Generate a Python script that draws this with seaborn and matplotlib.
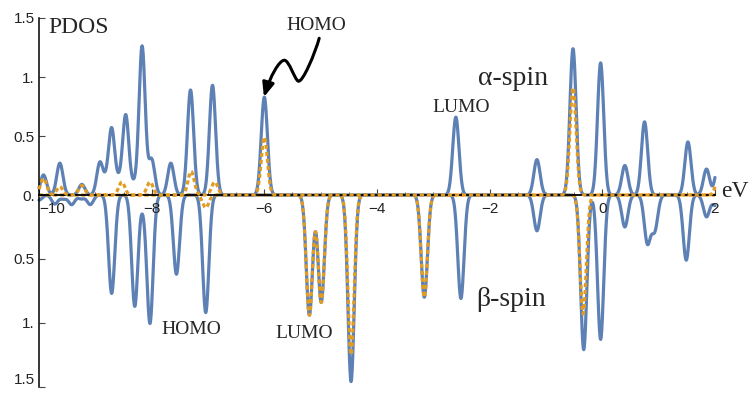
import numpy as np
import pandas as pd
import seaborn as sns
import matplotlib.pyplot as plt
from matplotlib.path import Path
from matplotlib.patches import FancyArrowPatch

# ---------------- data (peak positions in eV and heights) -------------
alpha_total_E = [-9.92, -9.63, -9.24, -8.92, -8.81, -8.71, -8.58, -8.46, -8.32, -8.17, -8.00,
                 -7.66, -7.31, -6.92, -6.00, -2.60, -1.16, -0.52, -0.03, 0.40, 0.75, 1.52, 1.85, 2.06]
alpha_total_H = [0.17, 0.27, 0.09, 0.27, 0.08, 0.55, 0.10, 0.67, 0.08, 1.26, 0.30,
                 0.27, 0.89, 0.93, 0.83, 0.66, 0.30, 1.24, 1.12, 0.25, 0.62, 0.45, 0.22, 0.26]

alpha_sub_E = [-9.92, -9.63, -9.24, -8.53, -8.03, -7.30, -6.88, -6.00, -0.52, 2.07]
alpha_sub_H = [0.14, 0.07, 0.08, 0.11, 0.11, 0.20, 0.11, 0.49, 0.91, 0.16]

beta_total_E = [-10.0, -9.72, -9.57, -9.42, -9.25, -9.09, -8.71, -8.30, -8.15, -8.03, -7.56, -7.04,
                -5.20, -4.99, -4.46, -3.16, -2.51, -1.16, -0.33, -0.03, 0.40, 0.80, 0.93, 1.49, 1.85, 2.01]
beta_total_H = [0.04, 0.07, 0.03, 0.075, 0.03, 0.075, 0.77, 0.87, 0.06, 1.00, 0.62, 0.92,
                0.94, 0.84, 1.46, 0.80, 0.81, 0.28, 1.21, 1.13, 0.25, 0.37, 0.27, 0.51, 0.17, 0.08]

beta_sub_E = [-7.04, -5.20, -4.99, -4.46, -3.16, -0.34]
beta_sub_H = [0.10, 0.94, 0.84, 1.25, 0.80, 0.93]

x_ticks = [-10, -8, -6, -4, -2, 0, 2]
x_tick_labels = ['\u221210', '\u22128', '\u22126', '\u22124', '\u22122', '0', '2']
y_up_ticks = [0, 0.5, 1.0, 1.5]
y_up_labels = ['0.', '0.5', '1.', '1.5']
y_dn_ticks = [-1.5, -1.0, -0.5]
y_dn_labels = ['1.5', '1.', '0.5']

SIGMA = 0.055  # gaussian broadening (eV)

# ---------------- build curves ----------------
E = np.linspace(-10, 2, 2401)


def broaden(centers, heights):
    c = np.asarray(centers)[:, None]
    h = np.asarray(heights)[:, None]
    return (h * np.exp(-(E[None, :] - c) ** 2 / (2 * SIGMA ** 2))).sum(axis=0)


df = pd.DataFrame({
    'E': E,
    'alpha_total': broaden(alpha_total_E, alpha_total_H),
    'alpha_sub': broaden(alpha_sub_E, alpha_sub_H),
    'beta_total': -broaden(beta_total_E, beta_total_H),
    'beta_sub': -broaden(beta_sub_E, beta_sub_H),
})

BLUE = '#5E81B5'
ORANGE = '#E19C24'

sns.set_style('white')
plt.rcParams['font.family'] = ['Liberation Sans', 'DejaVu Sans']
plt.rcParams['axes.unicode_minus'] = True

fig = plt.figure(figsize=(7.53, 3.93), dpi=100)
fig.patch.set_facecolor('white')
ax1 = fig.add_axes([0.0518, 0.5038, 0.8977, 0.4504])
ax2 = fig.add_axes([0.0518, 0.0160, 0.8977, 0.4878])
ax1.set_zorder(2)
ax2.set_zorder(1)
for ax in (ax1, ax2):
    ax.patch.set_alpha(0)

LW = 2.3
sns.lineplot(data=df, x='E', y='alpha_total', ax=ax1, color=BLUE, lw=LW,
             estimator=None, sort=False, zorder=2, clip_on=False)
sns.lineplot(data=df, x='E', y='alpha_sub', ax=ax1, color=ORANGE, lw=LW,
             estimator=None, sort=False, zorder=3, clip_on=False)
ax1.lines[-1].set_dashes([1.3, 0.9])
sns.lineplot(data=df, x='E', y='beta_total', ax=ax2, color=BLUE, lw=LW,
             estimator=None, sort=False, zorder=2, clip_on=False)
sns.lineplot(data=df, x='E', y='beta_sub', ax=ax2, color=ORANGE, lw=LW,
             estimator=None, sort=False, zorder=3, clip_on=False)
ax2.lines[-1].set_dashes([1.3, 0.9])

for ax in (ax1, ax2):
    ax.set_xlim(-10, 2)
    ax.set_xlabel('')
    ax.set_ylabel('')
    for s in ax.spines.values():
        s.set_visible(False)
    ax.spines['left'].set_visible(True)
    ax.spines['left'].set_color('black')
    ax.spines['left'].set_linewidth(1.1)

ax1.set_ylim(0, 1.5)
ax2.set_ylim(-1.5, 0)
ax1.spines['bottom'].set_visible(True)
ax1.spines['bottom'].set_color('black')
ax1.spines['bottom'].set_linewidth(1.3)

TICK_FS = 11
ax1.set_xticks(x_ticks, labels=x_tick_labels)
ax1.set_xticks(np.arange(-10, 2.01, 0.5), minor=True)
ax1.tick_params(axis='x', which='major', direction='in', length=4, width=0.8,
                pad=5, labelsize=TICK_FS, color='#444', labelcolor='#222', bottom=True)
ax1.tick_params(axis='x', which='minor', direction='in', length=2.5, width=0.6,
                color='#444', bottom=True)
ax1.get_xticklabels()[0].set_horizontalalignment('left')
ax1.set_yticks(y_up_ticks, labels=y_up_labels)
ax1.tick_params(axis='y', direction='in', length=4, width=0.8, pad=3,
                labelsize=TICK_FS, color='#444', labelcolor='#222', left=True)

ax2.set_xticks([])
# the lowest label ("1.5") is drawn by hand a little higher so it stays inside the picture
ax2.set_yticks(y_dn_ticks, labels=[''] + y_dn_labels[1:])
ax2.tick_params(axis='y', direction='in', length=4, width=0.8, pad=3,
                labelsize=TICK_FS, color='#444', labelcolor='#222', left=True)
ax2.annotate(y_dn_labels[0], xy=(0, y_dn_ticks[0]), xycoords=('axes fraction', 'data'),
             xytext=(-3, 0), textcoords='offset points', ha='right', va='bottom',
             fontsize=TICK_FS, color='#222', annotation_clip=False)

SERIF = ['Liberation Serif', 'DejaVu Serif']
ax1.text(-9.84, 1.373, 'PDOS', fontsize=17, family=SERIF, ha='left', va='baseline')
ax1.text(-5.60, 1.398, 'HOMO', fontsize=14, family=SERIF, ha='left', va='baseline', clip_on=False)
ax1.text(-3.01, 0.703, 'LUMO', fontsize=14, family=SERIF, ha='left', va='baseline')
ax1.text(-2.21, 0.932, '\u03b1-spin', fontsize=20, family=SERIF, ha='left', va='baseline')
ax1.text(2.115, -0.014, 'eV', fontsize=17, family=SERIF, ha='left', va='baseline', clip_on=False)
ax2.text(-2.245, -0.866, '\u03b2-spin', fontsize=20, family=SERIF, ha='left', va='baseline')
ax2.text(-7.82, -1.084, 'HOMO', fontsize=14, family=SERIF, ha='left', va='baseline')
ax2.text(-5.81, -1.116, 'LUMO', fontsize=14, family=SERIF, ha='left', va='baseline')

# curly arrow pointing to the alpha HOMO peak
verts = [(-5.026, 1.328),
         (-5.10, 1.20), (-5.32, 0.95), (-5.398, 0.965),
         (-5.46, 0.975), (-5.56, 1.145), (-5.647, 1.142),
         (-5.74, 1.14), (-5.90, 1.00), (-6.007, 0.83)]
codes = [Path.MOVETO] + [Path.CURVE4] * 9
arrow = FancyArrowPatch(path=Path(verts, codes),
                        arrowstyle='-|>,head_length=0.6,head_width=0.25',
                        mutation_scale=14, lw=2.2, color='black',
                        transform=ax1.transData, clip_on=False, zorder=5)
ax1.add_patch(arrow)

fig.savefig('out.png', dpi=100)
